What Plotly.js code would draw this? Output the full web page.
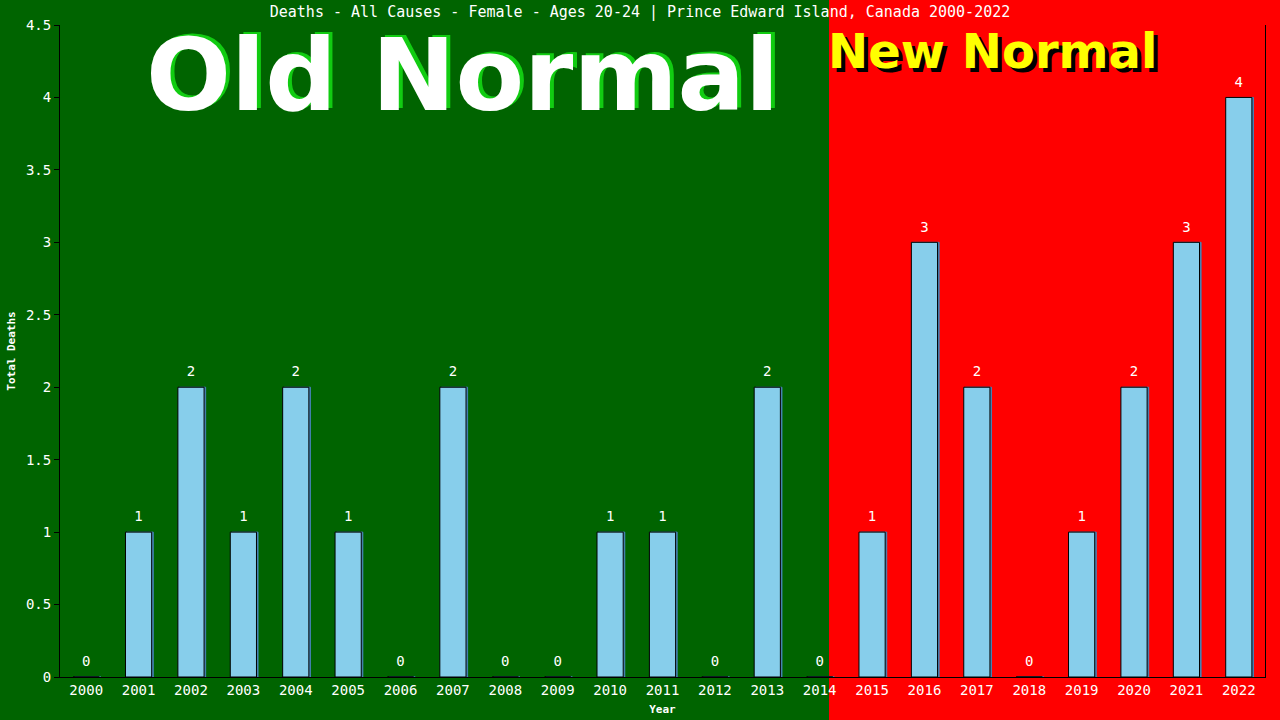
<!DOCTYPE html>
<html>
<head>
<meta charset="utf-8">
<script src="https://cdn.plot.ly/plotly-3.0.1.min.js"></script>
<style>
  html, body { margin: 0; padding: 0; background: #006400; }
  #chart { width: 1280px; height: 720px; }
</style>
</head>
<body>
<div id="chart"></div>
<script>
const years = ['2000', '2001', '2002', '2003', '2004', '2005', '2006', '2007', '2008', '2009', '2010', '2011',
  '2012', '2013', '2014', '2015', '2016', '2017', '2018', '2019', '2020', '2021', '2022'];
const deaths = [0, 1, 2, 1, 2, 1, 0, 2, 0, 0, 1, 1, 0, 2, 0, 1, 3, 2, 0, 1, 2, 3, 4];
const yTicks = [0, 0.5, 1, 1.5, 2, 2.5, 3, 3.5, 4, 4.5];
const yTickText = ['0', '0.5', '1', '1.5', '2', '2.5', '3', '3.5', '4', '4.5'];

const titleText = 'Deaths - All Causes - Female - Ages 20-24 | Prince Edward Island, Canada 2000-2022';
const mono = '"DejaVu Sans Mono", "Liberation Mono", monospace';
const bold = '"DejaVu Sans", "Liberation Sans", sans-serif';

// plot area in pixels: left 60, right 1265, top 25, bottom 677
const L = 60, R = 1265, T = 25, B = 677;
const px = x => (x - L) / (R - L);
const py = y => (B - y) / (B - T);

const shadowBars = {
  type: 'bar',
  x: years,
  y: deaths,
  width: 0.5,
  offset: -0.22,
  marker: { color: '#4682B4', line: { color: '#4682B4', width: 1 } },
  hoverinfo: 'skip',
  showlegend: false
};

const bars = {
  type: 'bar',
  x: years,
  y: deaths,
  width: 0.5,
  offset: -0.25,
  marker: { color: '#87CEEB', line: { color: '#000000', width: 1 } },
  showlegend: false
};

// value labels above each bar (invisible markers push the text up a little)
const labels = {
  type: 'scatter',
  mode: 'markers+text',
  x: years,
  y: deaths,
  text: deaths.map(String),
  textposition: 'top center',
  marker: { size: 10, opacity: 0 },
  textfont: { family: mono, size: 14, color: '#FFFFFF' },
  hoverinfo: 'skip',
  showlegend: false
};

const layout = {
  width: 1280,
  height: 720,
  margin: { l: L, r: 1280 - R, t: T, b: 720 - B },
  paper_bgcolor: '#006400',
  plot_bgcolor: 'rgba(0,0,0,0)',
  barmode: 'overlay',
  showlegend: false,
  title: {
    text: titleText,
    x: 0.5,
    xref: 'container',
    y: 0.983,
    yref: 'container',
    yanchor: 'middle',
    font: { family: mono, size: 15, color: '#FFFFFF' }
  },
  xaxis: {
    type: 'category',
    range: [-0.5, 22.5],
    showline: true,
    linecolor: '#000000',
    linewidth: 1,
    ticks: '',
    showgrid: false,
    zeroline: false,
    tickfont: { family: mono, size: 14, color: '#FFFFFF' },
    title: { text: 'Year', standoff: 8, font: { family: mono, size: 11, color: '#FFFFFF', weight: 'bold' } }
  },
  yaxis: {
    range: [0, 4.5],
    tickvals: yTicks,
    ticktext: yTickText,
    showline: true,
    mirror: true,
    linecolor: '#000000',
    linewidth: 1,
    ticks: 'outside',
    ticklen: 5,
    tickcolor: '#000000',
    showgrid: false,
    zeroline: false,
    tickfont: { family: mono, size: 14, color: '#FFFFFF' },
    title: { text: 'Total Deaths', standoff: 8, font: { family: mono, size: 11, color: '#FFFFFF', weight: 'bold' } }
  },
  shapes: [
    {
      type: 'rect', xref: 'paper', yref: 'paper', layer: 'below',
      x0: px(829), x1: px(1290), y0: py(730), y1: py(-10),
      fillcolor: '#FF0000', line: { width: 0 }
    }
  ],
  annotations: [
    {
      text: 'Old Normal', xref: 'paper', yref: 'paper', x: px(462), y: py(75),
      xanchor: 'center', yanchor: 'middle', showarrow: false, xshift: 4, yshift: 2,
      font: { family: bold, size: 100, color: '#11CC11', weight: 'bold' }
    },
    {
      text: 'Old Normal', xref: 'paper', yref: 'paper', x: px(462), y: py(75),
      xanchor: 'center', yanchor: 'middle', showarrow: false,
      font: { family: bold, size: 100, color: '#FFFFFF', weight: 'bold' }
    },
    {
      text: 'New Normal', xref: 'paper', yref: 'paper', x: px(992), y: py(51),
      xanchor: 'center', yanchor: 'middle', showarrow: false, xshift: 4, yshift: -4,
      font: { family: bold, size: 48, color: '#000000', weight: 'bold' }
    },
    {
      text: 'New Normal', xref: 'paper', yref: 'paper', x: px(992), y: py(51),
      xanchor: 'center', yanchor: 'middle', showarrow: false,
      font: { family: bold, size: 48, color: '#FFFF00', weight: 'bold' }
    }
  ]
};

Plotly.newPlot('chart', [shadowBars, bars, labels], layout, { displayModeBar: false, staticPlot: true });
</script>
</body>
</html>
